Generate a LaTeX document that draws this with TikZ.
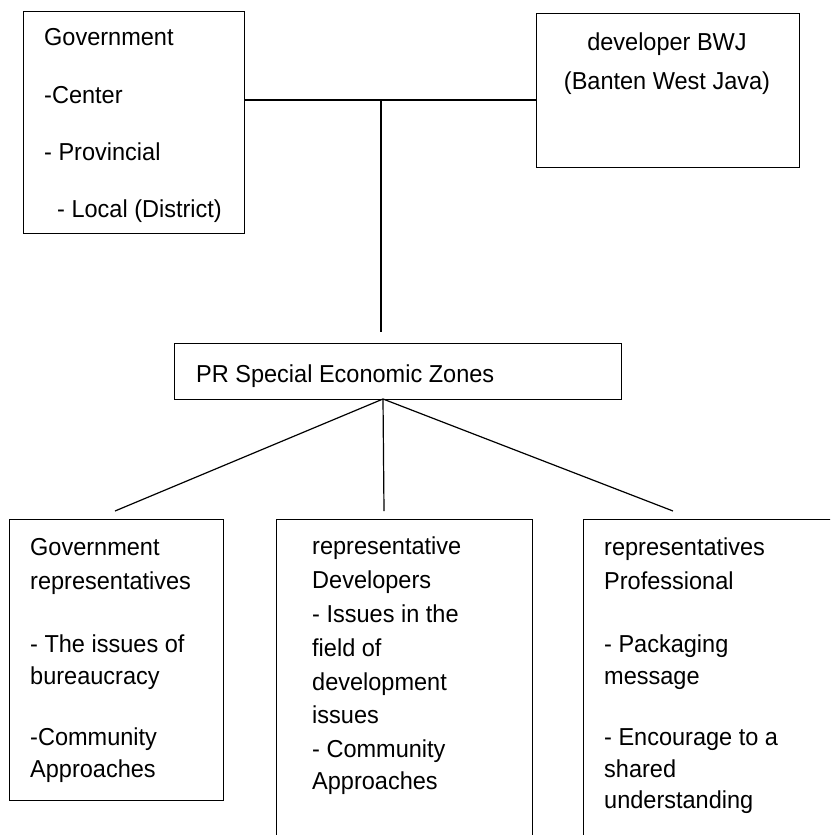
\documentclass[tikz,border=0pt]{standalone}
\usepackage{fontspec}
\setmainfont{Liberation Sans}[FakeStretch=0.96]
\begin{document}
\begin{tikzpicture}[x=1pt,y=-1pt,
  box/.style={draw=black,line width=1.2pt,inner sep=0pt,anchor=north west},
  txt/.style={inner sep=0pt,anchor=base west,font=\fontsize{24.5}{29}\selectfont},
  ctxt/.style={txt,anchor=base},
  conn/.style={draw=black,line width=1.2pt}]
\useasboundingbox (0,0) rectangle (830,835);
\clip (0,0) rectangle (830,835);
% boxes
\node[box,minimum width=221pt,minimum height=222pt] (gov) at (23,11) {};
\node[box,minimum width=263pt,minimum height=154pt] (dev) at (536,13) {};
\node[box,minimum width=447pt,minimum height=56pt] (pr) at (174,343) {};
\node[box,minimum width=214pt,minimum height=281pt] (gr) at (9,519) {};
\node[box,minimum width=256pt,minimum height=340pt] (dr) at (276,519) {};
\node[box,minimum width=280pt,minimum height=340pt] (pro) at (583,519) {};
% texts
\node[txt] (g1) at (44,45) {Government};
\node[txt] (g2) at (44,103) {-Center};
\node[txt] (g3) at (44,160) {- Provincial};
\node[txt] (g4) at (57,217) {- Local (District)};
\node[ctxt] (d1) at (667,50) {developer BWJ};
\node[ctxt] (d2) at (667,89) {(Banten West Java)};
\node[txt] (p1) at (196,382) {PR Special Economic Zones};
\node[txt] (l1) at (30,555) {Government};
\node[txt] (l2) at (30,589) {representatives};
\node[txt] (l3) at (30,652) {- The issues of};
\node[txt] (l4) at (30,684) {bureaucracy};
\node[txt] (l5) at (30,745) {-Community};
\node[txt] (l6) at (30,777) {Approaches};
\node[txt] (m1) at (312,554) {representative};
\node[txt] (m2) at (312,588) {Developers};
\node[txt] (m3) at (312,622) {- Issues in the};
\node[txt] (m4) at (312,656) {field of};
\node[txt] (m5) at (312,690) {development};
\node[txt] (m6) at (312,723) {issues};
\node[txt] (m7) at (312,757) {- Community};
\node[txt] (m8) at (312,789) {Approaches};
\node[txt] (r1) at (604,555) {representatives};
\node[txt] (r2) at (604,589) {Professional};
\node[txt] (r3) at (604,652) {- Packaging};
\node[txt] (r4) at (604,684) {message};
\node[txt] (r5) at (604,745) {- Encourage to a};
\node[txt] (r6) at (604,777) {shared};
\node[txt] (r7) at (604,808) {understanding};
% connectors
\coordinate (j) at (381,100);
\coordinate (jb) at (381,332);
\coordinate (s) at (383,399);
\coordinate (e1) at (115,511);
\coordinate (e2) at (384,511);
\coordinate (e3) at (673,511);
\draw[conn] (gov.east |- j) -- (dev.west |- j);
\draw[conn] (j) -- (jb);
\draw[conn] (s) -- (e1);
\draw[conn] (s) -- (e2);
\draw[conn] (s) -- (e3);
\end{tikzpicture}
\end{document}
